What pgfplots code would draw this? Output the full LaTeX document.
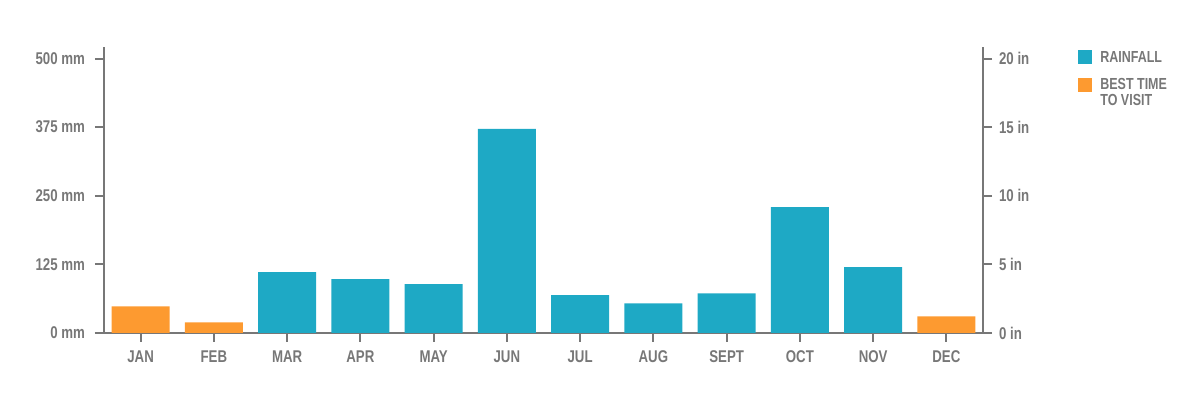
\documentclass[border=0pt]{standalone}
\usepackage{fontspec}
\setmainfont{Liberation Sans}[FakeStretch=0.78]
\usepackage{pgfplots}
\pgfplotsset{compat=1.18}

\definecolor{rain}{HTML}{1EA9C5}
\definecolor{best}{HTML}{FD9A30}
\definecolor{axgray}{HTML}{777777}
\definecolor{txtgray}{HTML}{777777}

% month index, rainfall in mm
\pgfplotstableread{
x mm
2 110.8
3 98
4 88.9
5 371.7
6 68.8
7 54
8 72.4
9 229.4
10 119.9
}\rainfall

\pgfplotstableread{
x mm
0 48.7
1 19.5
11 30.5
}\besttime

\begin{document}
\begin{tikzpicture}[font=\bfseries\fontsize{8.5}{10}\selectfont]
\pgfplotsset{
  common/.style={
    scale only axis,
    width=439.5pt, height=143pt,
    xmin=-0.5, xmax=11.5,
    axis line style={axgray, line width=1pt},
    tick style={axgray, line width=1pt},
    major tick length=4.5pt,
    tick align=outside,
    ticklabel style={txtgray},
    clip=false,
  }
}
\begin{axis}[common,
    axis x line*=bottom, axis y line*=left,
    x axis line style={shorten <=-4.5pt, shorten >=-4.5pt},
    ymin=0, ymax=521,
    ytick={0,125,250,375,500},
    yticklabels={0 mm,125 mm,250 mm,375 mm,500 mm},
    yticklabel style={xshift=-1.5pt},
    xtick={0,...,11},
    xticklabels={JAN,FEB,MAR,APR,MAY,JUN,JUL,AUG,SEPT,OCT,NOV,DEC},
    xticklabel style={yshift=-1pt},
    ybar, bar width=0.79, bar shift=0pt,
  ]
  \addplot[draw=none, fill=rain] table[x=x, y=mm] {\rainfall};
  \addplot[draw=none, fill=best] table[x=x, y=mm] {\besttime};
\end{axis}
\begin{axis}[common,
    axis x line=none, axis y line*=right,
    ymin=0, ymax=20.84,
    ytick={0,5,10,15,20},
    yticklabels={0 in,5 in,10 in,15 in,20 in},
  ]
\end{axis}

% legend
\begin{scope}[font=\bfseries\fontsize{8}{8}\selectfont]
\fill[rain] (487pt,134.5pt) rectangle (494pt,141.5pt);
\node[anchor=west, inner sep=0pt, text=txtgray] at (498pt,138pt) {RAINFALL};
\fill[best] (487pt,120.5pt) rectangle (494pt,127.5pt);
\node[anchor=north west, inner sep=0pt, text=txtgray, align=left] at (498pt,127.5pt) {BEST TIME\\TO VISIT};
\end{scope}

\pgfresetboundingbox
\path (-52pt,-33.5pt) rectangle (548pt,166.5pt);
\end{tikzpicture}
\end{document}
